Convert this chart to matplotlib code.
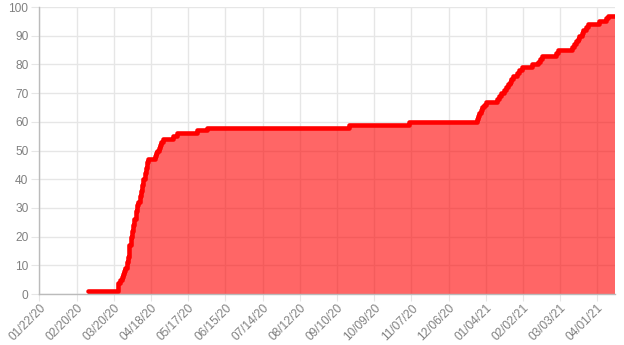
import numpy as np
import pandas as pd
import matplotlib
matplotlib.use('Agg')
import matplotlib.pyplot as plt
import matplotlib.dates as mdates

# cumulative count: date on which the value changes, and the new value
change_dates = [
    '2020-02-29', '2020-03-23', '2020-03-25', '2020-03-26', '2020-03-27', '2020-03-28',
    '2020-03-29', '2020-03-30', '2020-03-31', '2020-04-01', '2020-04-02', '2020-04-03',
    '2020-04-04', '2020-04-05', '2020-04-06', '2020-04-07', '2020-04-08', '2020-04-09',
    '2020-04-10', '2020-04-11', '2020-04-12', '2020-04-13', '2020-04-14', '2020-04-15',
    '2020-04-16', '2020-04-21', '2020-04-22', '2020-04-23', '2020-04-24', '2020-04-25',
    '2020-04-26', '2020-04-27', '2020-05-05', '2020-05-08', '2020-05-24', '2020-06-01',
    '2020-09-19', '2020-11-05', '2020-12-28', '2020-12-29', '2020-12-30', '2020-12-31',
    '2021-01-01', '2021-01-03', '2021-01-04', '2021-01-13', '2021-01-14', '2021-01-16',
    '2021-01-18', '2021-01-20', '2021-01-21', '2021-01-23', '2021-01-24', '2021-01-25',
    '2021-01-28', '2021-01-30', '2021-02-01', '2021-02-09', '2021-02-14', '2021-02-15',
    '2021-02-17', '2021-02-28', '2021-03-01', '2021-03-12', '2021-03-14', '2021-03-15',
    '2021-03-17', '2021-03-18', '2021-03-20', '2021-03-21', '2021-03-23', '2021-03-25',
    '2021-04-02', '2021-04-08', '2021-04-09', '2021-04-15',
]
change_values = [
    1, 4, 5, 6, 7, 8,
    9, 11, 13, 17, 20, 22,
    24, 26, 29, 31, 32, 34,
    36, 38, 40, 42, 44, 46,
    47, 48, 49, 50, 51, 52,
    53, 54, 55, 56, 57, 58,
    59, 60, 61, 62, 63, 64,
    65, 66, 67, 68, 69, 70,
    71, 72, 73, 74, 75, 76,
    77, 78, 79, 80, 81, 82,
    83, 84, 85, 86, 87, 88,
    89, 90, 91, 92, 93, 94,
    95, 96, 97, 97,
]

first_day = '2020-01-22'
last_day = '2021-04-15'
tick_step_days = 29
y_ticks = list(range(0, 101, 10))

x = pd.to_datetime(change_dates)
y = np.array(change_values)

fig = plt.figure(figsize=(6.24, 3.45), dpi=100)
ax = fig.add_axes([0.0633, 0.1478, 0.9227, 0.8319])

grid_col = '#e6e6e6'
text_col = '#808080'

ax.fill_between(x, y, step='post', color=(1, 0, 0, 0.6), linewidth=0, zorder=2)
ax.plot(x, y, drawstyle='steps-post', color='#ff0000', linewidth=3.3,
        solid_capstyle='round', solid_joinstyle='round', zorder=3)

ax.set_xlim(pd.Timestamp(first_day), pd.Timestamp(last_day))
ax.set_ylim(0, 100)

xt = pd.date_range(first_day, last_day, freq=f'{tick_step_days}D')
ax.set_xticks(xt)
ax.xaxis.set_major_formatter(mdates.DateFormatter('%m/%d/%y'))
ax.set_yticks(y_ticks)

ax.grid(True, color=grid_col, linewidth=1, zorder=0)
ax.set_axisbelow(True)
for s in ['top', 'right']:
    ax.spines[s].set_visible(False)
for s in ['left', 'bottom']:
    ax.spines[s].set_color('#bbbbbb')
    ax.spines[s].set_linewidth(1)
    ax.spines[s].set_zorder(4)

ax.tick_params(axis='y', length=6, color=grid_col, labelcolor=text_col,
               labelsize=8.6, pad=2)
ax.tick_params(axis='x', length=5, color=grid_col, labelcolor=text_col,
               labelsize=8.6, pad=1)
for lab in ax.get_yticklabels():
    lab.set_fontfamily('Liberation Sans')
for lab in ax.get_xticklabels():
    lab.set_fontfamily('Liberation Sans')
    lab.set_rotation(45)
    lab.set_ha('right')
    lab.set_rotation_mode('anchor')

fig.savefig('out.png', dpi=100)
